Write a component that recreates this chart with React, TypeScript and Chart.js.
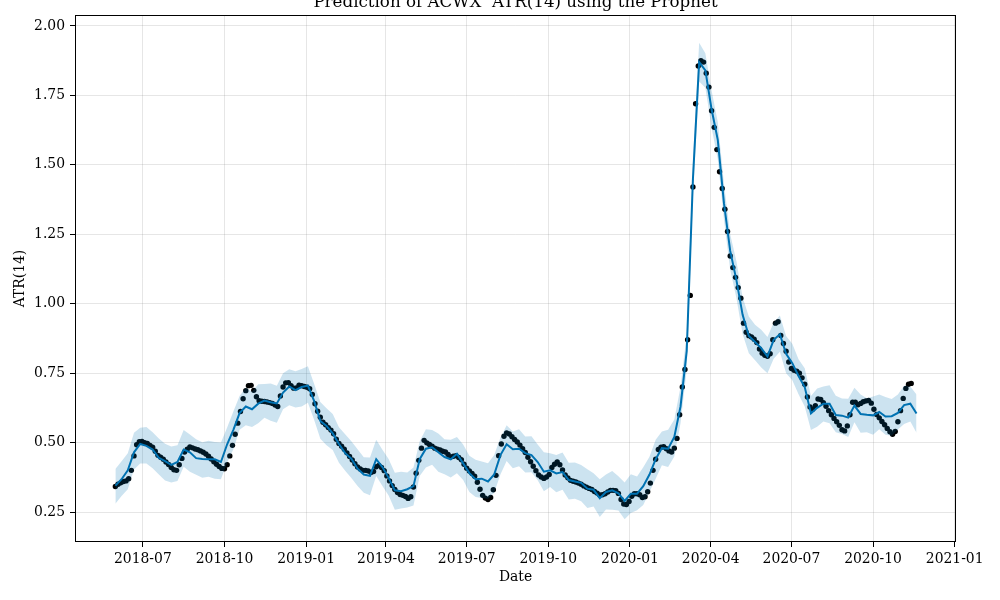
import { useEffect, useRef } from "react"
import { Chart, registerables } from "chart.js"

Chart.register(...registerables)

const DAY = 86400000
const TITLE = "Prediction of ACWX  ATR(14) using the Prophet"

// observed ATR(14), one reading every 3 days from 2018-05-31
const actualStart = Date.UTC(2018, 4, 31)
const actualStepDays = 3
const actualValues = [
  0.342, 0.35, 0.355, 0.36, 0.362, 0.37, 0.40, 0.452, 0.492, 0.503,
  0.504, 0.50, 0.497, 0.49, 0.483, 0.469, 0.454, 0.447, 0.44, 0.43,
  0.421, 0.41, 0.402, 0.40, 0.42, 0.443, 0.466, 0.476, 0.484, 0.481,
  0.477, 0.474, 0.47, 0.465, 0.459, 0.451, 0.441, 0.431, 0.422, 0.414,
  0.407, 0.406, 0.42, 0.452, 0.49, 0.53, 0.57, 0.612, 0.658, 0.687,
  0.705, 0.706, 0.688, 0.665, 0.651, 0.649, 0.648, 0.646, 0.644, 0.641,
  0.635, 0.63, 0.668, 0.70, 0.715, 0.716, 0.705, 0.696, 0.697, 0.707,
  0.705, 0.702, 0.699, 0.694, 0.673, 0.64, 0.613, 0.591, 0.573, 0.564,
  0.554, 0.545, 0.532, 0.512, 0.497, 0.487, 0.476, 0.463, 0.45, 0.437,
  0.424, 0.412, 0.405, 0.40, 0.40, 0.398, 0.392, 0.396, 0.413, 0.418,
  0.41, 0.399, 0.38, 0.362, 0.345, 0.331, 0.32, 0.313, 0.31, 0.306,
  0.299, 0.305, 0.34, 0.39, 0.436, 0.48, 0.508, 0.499, 0.493, 0.487,
  0.48, 0.476, 0.473, 0.469, 0.466, 0.457, 0.448, 0.451, 0.453, 0.446,
  0.438, 0.422, 0.408, 0.398, 0.389, 0.379, 0.357, 0.332, 0.31, 0.30,
  0.295, 0.302, 0.33, 0.382, 0.453, 0.495, 0.523, 0.535, 0.531, 0.521,
  0.511, 0.502, 0.491, 0.478, 0.464, 0.447, 0.431, 0.415, 0.399, 0.383,
  0.376, 0.371, 0.376, 0.385, 0.41, 0.422, 0.43, 0.42, 0.401, 0.383,
  0.373, 0.364, 0.361, 0.358, 0.354, 0.35, 0.344, 0.339, 0.335, 0.331,
  0.324, 0.318, 0.311, 0.312, 0.316, 0.322, 0.328, 0.328, 0.327, 0.317,
  0.295, 0.279, 0.277, 0.288, 0.307, 0.316, 0.316, 0.312, 0.302, 0.305,
  0.323, 0.354, 0.40, 0.44, 0.475, 0.483, 0.485, 0.478, 0.47, 0.466,
  0.48, 0.515, 0.60, 0.70, 0.763, 0.87, 1.03, 1.42, 1.72, 1.856,
  1.875, 1.87, 1.83, 1.78, 1.695, 1.635, 1.555, 1.475, 1.415, 1.34,
  1.26, 1.172, 1.13, 1.095, 1.058, 1.02, 0.93, 0.897, 0.885, 0.88,
  0.872, 0.86, 0.837, 0.822, 0.814, 0.811, 0.82, 0.87, 0.93, 0.935,
  0.886, 0.857, 0.829, 0.79, 0.767, 0.76, 0.757, 0.75, 0.733, 0.71,
  0.664, 0.628, 0.62, 0.633, 0.657, 0.655, 0.644, 0.631, 0.615, 0.60,
  0.587, 0.575, 0.562, 0.546, 0.542, 0.56, 0.60, 0.645, 0.645, 0.636,
  0.641, 0.647, 0.65, 0.652, 0.642, 0.62, 0.601, 0.589, 0.576, 0.564,
  0.551, 0.539, 0.53, 0.54, 0.575, 0.615, 0.659, 0.695, 0.71, 0.713,
]

// prophet forecast, weekly from 2018-05-31
const forecastStart = Date.UTC(2018, 4, 31)
const forecastStepDays = 7
const yhat = [
  0.345, 0.368, 0.40, 0.465, 0.495, 0.488, 0.475, 0.445, 0.433, 0.42,
  0.43, 0.475, 0.465, 0.444, 0.441, 0.44, 0.44, 0.43, 0.494, 0.546,
  0.606, 0.63, 0.62, 0.64, 0.651, 0.645, 0.641, 0.68, 0.702, 0.689,
  0.70, 0.705, 0.65, 0.578, 0.56, 0.533, 0.495, 0.462, 0.442, 0.406,
  0.385, 0.38, 0.44, 0.412, 0.373, 0.328, 0.325, 0.332, 0.343, 0.44,
  0.478, 0.483, 0.465, 0.448, 0.44, 0.46, 0.425, 0.39, 0.368, 0.37,
  0.36, 0.385, 0.455, 0.494, 0.476, 0.478, 0.462, 0.455, 0.43, 0.395,
  0.40, 0.389, 0.394, 0.365, 0.36, 0.355, 0.334, 0.33, 0.30, 0.322,
  0.328, 0.317, 0.29, 0.316, 0.316, 0.343, 0.385, 0.44, 0.48, 0.478,
  0.52, 0.63, 0.83, 1.45, 1.87, 1.84, 1.70, 1.59, 1.361, 1.19,
  1.085, 0.96, 0.884, 0.862, 0.84, 0.81, 0.87, 0.89, 0.82, 0.786,
  0.74, 0.70, 0.605, 0.625, 0.64, 0.64, 0.599, 0.597, 0.59, 0.633,
  0.603, 0.60, 0.598, 0.61, 0.594, 0.595, 0.607, 0.635, 0.64, 0.605,
]
const yhatUpper = [
  0.405, 0.433, 0.462, 0.535, 0.553, 0.556, 0.537, 0.515, 0.496, 0.486,
  0.49, 0.545, 0.529, 0.512, 0.501, 0.507, 0.502, 0.50, 0.554, 0.612,
  0.668, 0.698, 0.683, 0.71, 0.711, 0.713, 0.705, 0.75, 0.764, 0.757,
  0.765, 0.775, 0.712, 0.646, 0.624, 0.603, 0.555, 0.53, 0.505, 0.476,
  0.447, 0.446, 0.51, 0.474, 0.441, 0.391, 0.395, 0.392, 0.41, 0.505,
  0.548, 0.545, 0.533, 0.512, 0.51, 0.52, 0.493, 0.453, 0.438, 0.432,
  0.426, 0.455, 0.517, 0.562, 0.54, 0.548, 0.522, 0.523, 0.493, 0.465,
  0.462, 0.455, 0.464, 0.427, 0.428, 0.419, 0.404, 0.39, 0.368, 0.385,
  0.398, 0.379, 0.356, 0.386, 0.378, 0.411, 0.449, 0.51, 0.54, 0.546,
  0.583, 0.70, 0.892, 1.516, 1.94, 1.902, 1.768, 1.654, 1.431, 1.25,
  1.153, 1.023, 0.954, 0.924, 0.906, 0.88, 0.932, 0.958, 0.884, 0.856,
  0.80, 0.768, 0.668, 0.695, 0.702, 0.706, 0.669, 0.659, 0.658, 0.697,
  0.673, 0.66, 0.666, 0.673, 0.664, 0.657, 0.673, 0.705, 0.702, 0.673,
]
const yhatLower = [
  0.28, 0.308, 0.332, 0.403, 0.425, 0.425, 0.408, 0.385, 0.363, 0.356,
  0.362, 0.413, 0.395, 0.384, 0.373, 0.377, 0.37, 0.368, 0.428, 0.476,
  0.546, 0.562, 0.556, 0.57, 0.589, 0.579, 0.571, 0.62, 0.634, 0.626,
  0.63, 0.643, 0.582, 0.514, 0.49, 0.473, 0.427, 0.399, 0.372, 0.344,
  0.319, 0.31, 0.38, 0.344, 0.309, 0.258, 0.263, 0.266, 0.273, 0.38,
  0.41, 0.42, 0.395, 0.386, 0.374, 0.39, 0.365, 0.322, 0.304, 0.30,
  0.298, 0.319, 0.385, 0.434, 0.408, 0.415, 0.392, 0.393, 0.364, 0.325,
  0.34, 0.321, 0.33, 0.295, 0.298, 0.289, 0.264, 0.27, 0.232, 0.259,
  0.258, 0.255, 0.224, 0.246, 0.256, 0.275, 0.322, 0.37, 0.418, 0.412,
  0.45, 0.57, 0.762, 1.387, 1.80, 1.778, 1.634, 1.52, 1.301, 1.122,
  1.021, 0.89, 0.822, 0.796, 0.77, 0.75, 0.802, 0.827, 0.75, 0.724,
  0.674, 0.63, 0.545, 0.557, 0.576, 0.57, 0.537, 0.531, 0.52, 0.573,
  0.535, 0.537, 0.528, 0.548, 0.528, 0.525, 0.547, 0.567, 0.576, 0.535,
]

const xTickLabels = [
  "2018-07", "2018-10", "2019-01", "2019-04", "2019-07", "2019-10",
  "2020-01", "2020-04", "2020-07", "2020-10", "2021-01",
]
const yTickValues = [0.25, 0.5, 0.75, 1.0, 1.25, 1.5, 1.75, 2.0]

const xMin = Date.UTC(2018, 3, 15, 12)
const xMax = Date.UTC(2021, 0, 2, 12)
const yMin = 0.142
const yMax = 2.0396

const SERIF = '"DejaVu Serif", serif'

function monthStart(label: string) {
  const [y, m] = label.split("-").map(Number)
  return Date.UTC(y, m - 1, 1)
}

function series(start: number, step: number, values: number[]) {
  return values.map((v, i) => ({ x: start + i * step * DAY, y: v }))
}

// black frame round the axes, plus title and axis labels
const framePlugin = {
  id: "frame",
  afterDraw(chart: Chart) {
    const { ctx, chartArea: a } = chart
    ctx.save()
    ctx.strokeStyle = "#000"
    ctx.lineWidth = 1
    ctx.strokeRect(a.left + 0.5, a.top + 0.5, a.right - a.left - 1, a.bottom - a.top - 1)
    ctx.fillStyle = "#000"
    ctx.textAlign = "center"
    ctx.textBaseline = "alphabetic"
    ctx.font = `16.7px ${SERIF}`
    ctx.fillText(TITLE, (a.left + a.right) / 2, a.top - 8)
    ctx.font = `13.9px ${SERIF}`
    ctx.textBaseline = "middle"
    ctx.fillText("Date", (a.left + a.right) / 2, 577)
    ctx.translate(20, (a.top + a.bottom) / 2)
    ctx.rotate(-Math.PI / 2)
    ctx.fillText("ATR(14)", 0, 0)
    ctx.restore()
  },
}

export default function App() {
  const chartRef = useRef<HTMLCanvasElement>(null)
  const chartInstance = useRef<Chart | null>(null)

  useEffect(() => {
    if (!chartRef.current) return
    if (chartInstance.current) chartInstance.current.destroy()

    const ctx = chartRef.current.getContext("2d")
    if (!ctx) return

    const band = "rgba(0, 114, 178, 0.2)"

    chartInstance.current = new Chart(ctx, {
      type: "line",
      data: {
        datasets: [
          {
            label: "Forecast",
            data: series(forecastStart, forecastStepDays, yhat),
            borderColor: "#0072B2",
            borderWidth: 2,
            pointRadius: 0,
            fill: false,
          },
          {
            label: "upper",
            data: series(forecastStart, forecastStepDays, yhatUpper),
            borderWidth: 0,
            borderColor: "rgba(0,0,0,0)",
            backgroundColor: band,
            pointRadius: 0,
            fill: "+1",
          },
          {
            label: "lower",
            data: series(forecastStart, forecastStepDays, yhatLower),
            borderWidth: 0,
            borderColor: "rgba(0,0,0,0)",
            pointRadius: 0,
            fill: false,
          },
          {
            label: "Observed data points",
            data: series(actualStart, actualStepDays, actualValues),
            showLine: false,
            pointRadius: 2.7,
            pointBorderWidth: 0,
            pointBackgroundColor: "#000",
            fill: false,
          },
        ],
      },
      options: {
        animation: false,
        responsive: false,
        events: [],
        layout: { padding: { top: 15, right: 44, left: 0, bottom: 0 } },
        plugins: {
          legend: { display: false },
          tooltip: { enabled: false },
          title: { display: false },
        },
        scales: {
          x: {
            type: "linear",
            min: xMin,
            max: xMax,
            afterBuildTicks: (scale) => {
              scale.ticks = xTickLabels.map((l) => ({ value: monthStart(l) }))
            },
            afterFit: (scale) => {
              scale.height = 58
            },
            ticks: {
              autoSkip: false,
              maxRotation: 0,
              padding: 4,
              color: "#000",
              font: { family: SERIF, size: 13.9 },
              callback: (_v, i) => xTickLabels[i],
            },
            grid: {
              color: "rgba(128, 128, 128, 0.2)",
              tickColor: "#000",
              tickLength: 5,
            },
            border: { display: false },
          },
          y: {
            type: "linear",
            min: yMin,
            max: yMax,
            afterBuildTicks: (scale) => {
              scale.ticks = yTickValues.map((v) => ({ value: v }))
            },
            afterFit: (scale) => {
              scale.width = 75
            },
            ticks: {
              padding: 5,
              color: "#000",
              font: { family: SERIF, size: 13.9 },
              callback: (v) => Number(v).toFixed(2),
            },
            grid: {
              color: "rgba(128, 128, 128, 0.2)",
              tickColor: "#000",
              tickLength: 5,
            },
            border: { display: false },
          },
        },
      },
      plugins: [framePlugin],
    })

    return () => {
      if (chartInstance.current) {
        chartInstance.current.destroy()
        chartInstance.current = null
      }
    }
  }, [])

  return (
    <div style={{ position: "absolute", left: 0, top: 0, width: 1000, height: 600, background: "#fff" }}>
      <canvas ref={chartRef} width={1000} height={600} />
    </div>
  )
}
